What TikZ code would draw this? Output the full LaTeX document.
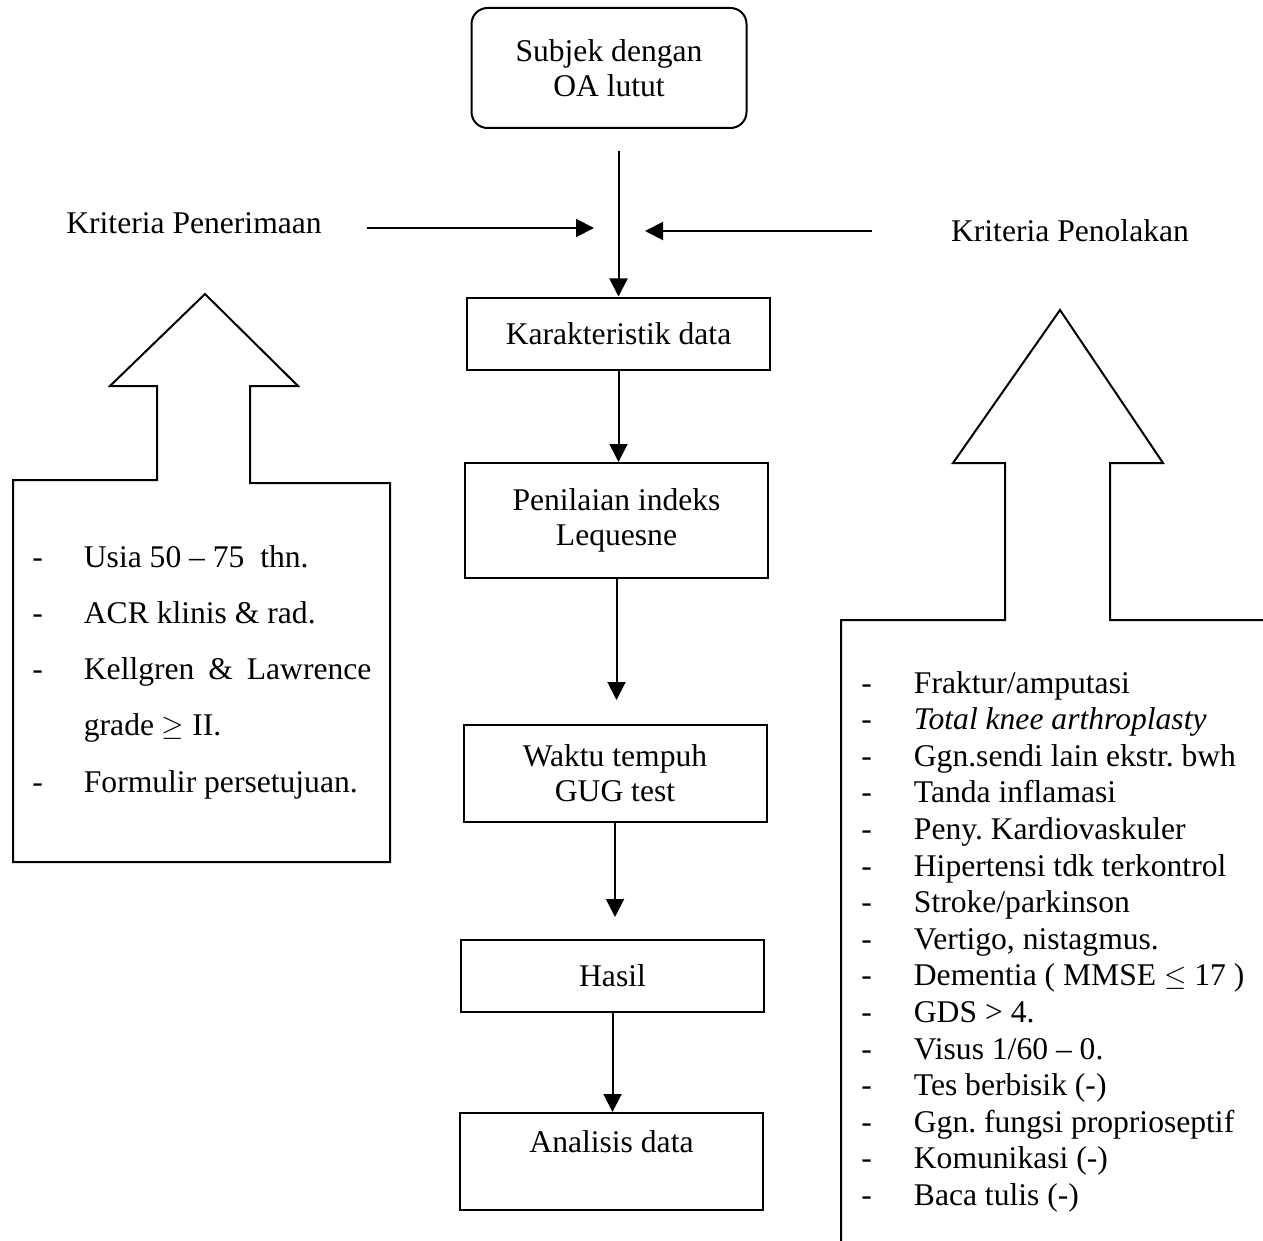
\documentclass[tikz,border=0pt]{standalone}
\usepackage{fontspec}
\setmainfont{Liberation Serif}
\usepackage{tikz}
\usetikzlibrary{shapes, arrows.meta, positioning, calc}

\begin{document}
\frenchspacing
\begin{tikzpicture}
  [
    x=0.5pt, y=-0.5pt,
    Start/.style={rectangle, rounded corners=8pt, draw=black, line width=1pt, minimum width=137.5pt, minimum height=60pt, align=center, font=\fontsize{15.8}{17.5}\selectfont},
    Box/.style={rectangle, draw=black, line width=1pt, minimum width=151.5pt, align=center, font=\fontsize{15.8}{17.5}\selectfont},
    Lbl/.style={font=\fontsize{15.8}{17.5}\selectfont},
    ListA/.style={inner sep=0pt, anchor=base west, font=\fontsize{15.8}{28.15}\selectfont},
    ListB/.style={inner sep=0pt, anchor=base west, font=\fontsize{15.8}{18.3}\selectfont},
    Arr/.style={line width=1pt, -{Triangle[length=9pt, width=9pt]}},
    Block/.style={draw=black, line width=1pt}
  ]
  \useasboundingbox (0,0) rectangle (1263,1241);

  % Nodes
  \node[Start] (subj) at (609,68) {Subjek dengan\\OA lutut};
  \node[Box, minimum height=36pt] (karak) at (618.5,333.5) {Karakteristik data};
  \node[Box, minimum height=57.5pt] (penil) at (616.5,520.5) {Penilaian indeks\\Lequesne};
  \node[Box, minimum height=48.5pt] (waktu) at (615,773.5) {Waktu tempuh\\GUG test};
  \node[Box, minimum height=36pt] (hasil) at (612.5,976) {Hasil};
  \node[Box, minimum height=48.5pt, text depth=20pt] (anal) at (611.5,1161.5) {Analisis data};

  \node[Lbl] (kterima) at (194,223) {Kriteria Penerimaan};
  \node[Lbl] (ktolak) at (1070,231) {Kriteria Penolakan};
  \coordinate (jterima) at (594,228);
  \coordinate (jtolak) at (645,231);

  % Block arrows
  \draw[Block] (13,480) -- (157,480) -- (157,386) -- (110,386) -- (205,294) -- (298,386)
    -- (250,386) -- (250,483) -- (390,483) -- (390,862) -- (13,862) -- cycle;
  \draw[Block] (1263,620) -- (1110,620) -- (1110,463) -- (1163,463) -- (1060,310)
    -- (953,463) -- (1005,463) -- (1005,620) -- (841,620) -- (841,1241);

  % Lists
  \node[ListA] (lterima) at (32,567) {\begin{tabular}[t]{@{}l@{\hspace{20.5pt}}l@{}}
    - & Usia 50 -- 75\ \ thn.\\
    - & ACR klinis \& rad.\\
    - & Kellgren\hspace{3pt} \&\hspace{3pt} Lawrence\\
      & grade $\geq$ II.\\
    - & Formulir persetujuan.
  \end{tabular}};
  \node[ListB] (ltolak) at (861,693) {\begin{tabular}[t]{@{}l@{\hspace{21pt}}l@{}}
    - & Fraktur/amputasi\\
    - & \textit{Total knee arthroplasty}\\
    - & Ggn.sendi lain ekstr. bwh\\
    - & Tanda inflamasi\\
    - & Peny. Kardiovaskuler\\
    - & Hipertensi tdk terkontrol\\
    - & Stroke/parkinson\\
    - & Vertigo, nistagmus.\\
    - & Dementia ( MMSE $\leq$ 17 )\\
    - & GDS > 4.\\
    - & Visus 1/60 -- 0.\\
    - & Tes berbisik (-)\\
    - & Ggn. fungsi proprioseptif\\
    - & Komunikasi (-)\\
    - & Baca tulis (-)
  \end{tabular}};

  % Connectors
  \draw[Arr, shorten <=19pt] (kterima.east |- jterima) -- (jterima);
  \draw[Arr, shorten <=36pt] (ktolak.west |- jtolak) -- (jtolak);
  \draw[Arr, shorten <=11pt] (karak.north |- subj.south) -- (karak.north);
  \draw[Arr] (karak.south) -- (karak.south |- penil.north);
  \draw[Arr, shorten >=12pt] (penil.south) -- (penil.south |- waktu.north);
  \draw[Arr, shorten >=11pt] (waktu.south) -- (waktu.south |- hasil.north);
  \draw[Arr] (hasil.south) -- (hasil.south |- anal.north);

\end{tikzpicture}
\end{document}
